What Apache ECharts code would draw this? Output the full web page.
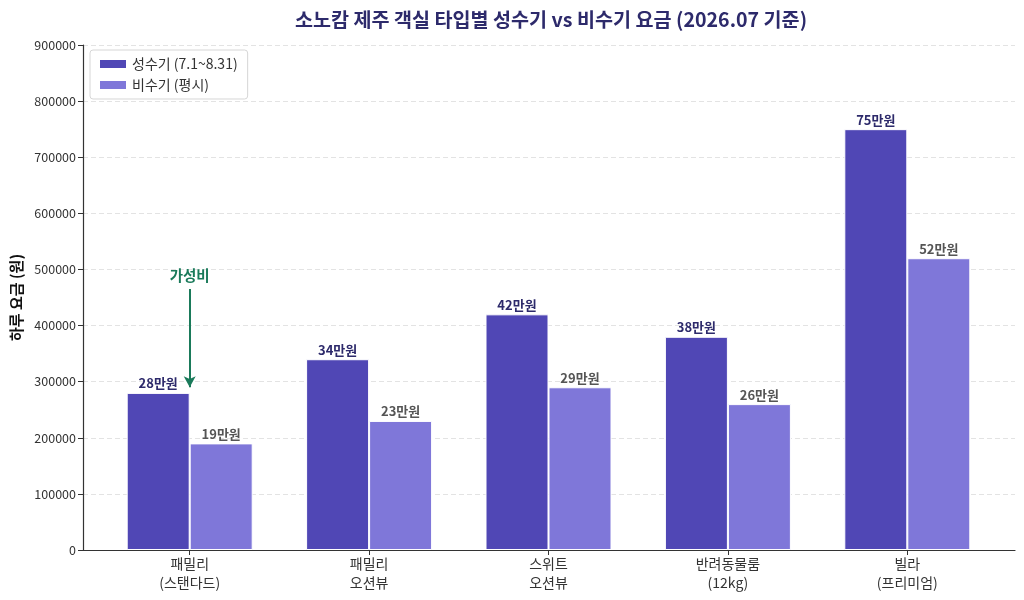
<!DOCTYPE html>
<html>
<head>
<meta charset="utf-8">
<script src="https://cdn.jsdelivr.net/npm/echarts@6/dist/echarts.min.js"></script>
<style>
  html, body { margin: 0; padding: 0; background: #fff; }
  #chart { width: 1024px; height: 600px; }
</style>
</head>
<body>
<div id="chart"></div>
<script>
// 객실 타입 / 요금 데이터
const roomTypes = ['패밀리\n(스탠다드)', '패밀리\n오션뷰', '스위트\n오션뷰', '반려동물룸\n(12kg)', '빌라\n(프리미엄)'];
const peakPrices = [280000, 340000, 420000, 380000, 750000];
const offPrices = [190000, 230000, 290000, 260000, 520000];
const yTicks = { min: 0, max: 900000, interval: 100000 };
const noteText = '가성비';
const noteFrom = 465000;
const noteTo = 290000;

const font = '"Noto Sans CJK KR", "Noto Sans", sans-serif';
const colors = ['#5047b5', '#7f77d9'];

function manwon(p) {
  return Math.round(p.value / 10000) + '만원';
}

const chart = echarts.init(document.getElementById('chart'));

const option = {
  animation: false,
  textStyle: { fontFamily: font },
  title: {
    text: '소노캄 제주 객실 타입별 성수기 vs 비수기 요금 (2026.07 기준)',
    left: 546, top: 5, textAlign: 'center',
    textStyle: { fontFamily: font, fontSize: 19.6, fontWeight: 'bold', color: '#2d2a6b' }
  },
  legend: {
    orient: 'vertical',
    left: 90, top: 50,
    padding: [7, 10, 7, 8],
    itemGap: 7,
    itemWidth: 28, itemHeight: 10,
    icon: 'rect',
    backgroundColor: '#fff',
    borderColor: '#d6d6d6', borderWidth: 1, borderRadius: 3,
    textStyle: { fontFamily: font, fontSize: 14, color: '#333' },
    data: ['성수기 (7.1~8.31)', '비수기 (평시)']
  },
  grid: [
    { left: 83, right: 9, top: 45, bottom: 50, outerBoundsMode: 'none', containLabel: false },
    { left: 100, right: 27, top: 45, bottom: 50, outerBoundsMode: 'none', containLabel: false }
  ],
  xAxis: [
    {
      type: 'value', gridIndex: 0, min: 0, max: 1,
      axisLine: { show: true, lineStyle: { color: '#333', width: 1.2 } },
      axisTick: { show: false }, axisLabel: { show: false }, splitLine: { show: false }
    },
    {
      type: 'category', gridIndex: 1, data: roomTypes,
      axisLine: { show: false },
      axisTick: { show: true, alignWithLabel: true, length: 5, lineStyle: { color: '#333' } },
      axisLabel: { fontFamily: font, fontSize: 14, color: '#333', lineHeight: 19, margin: 4 }
    }
  ],
  yAxis: [
    {
      type: 'value', gridIndex: 0,
      min: yTicks.min, max: yTicks.max, interval: yTicks.interval,
      name: '하루 요금 (원)', nameLocation: 'middle', nameGap: 59,
      nameTextStyle: { fontFamily: font, fontSize: 15, fontWeight: 'bold', color: '#111' },
      axisLine: { show: true, lineStyle: { color: '#333', width: 1.2 } },
      axisTick: { show: true, length: 5, lineStyle: { color: '#333' } },
      axisLabel: { fontFamily: font, fontSize: 12.5, color: '#333', margin: 7, formatter: v => String(v) },
      splitLine: { show: true, lineStyle: { color: '#e3e3e3', type: [5, 3] } }
    },
    {
      type: 'value', gridIndex: 1,
      min: yTicks.min, max: yTicks.max, interval: yTicks.interval,
      show: false, splitLine: { show: false }
    }
  ],
  series: [
    {
      name: '성수기 (7.1~8.31)', type: 'bar',
      xAxisIndex: 1, yAxisIndex: 1,
      data: peakPrices, barWidth: 63, barGap: '0%',
      itemStyle: { color: colors[0], borderColor: '#fff', borderWidth: 1 },
      label: {
        show: true, position: 'top', distance: 3, formatter: manwon,
        fontFamily: font, fontSize: 13, fontWeight: 'bold', color: '#2d2a6b'
      }
    },
    {
      name: '비수기 (평시)', type: 'bar',
      xAxisIndex: 1, yAxisIndex: 1,
      data: offPrices, barWidth: 63, barGap: '0%',
      itemStyle: { color: colors[1], borderColor: '#fff', borderWidth: 1 },
      label: {
        show: true, position: 'top', distance: 3, formatter: manwon,
        fontFamily: font, fontSize: 13, fontWeight: 'bold', color: '#555'
      }
    },
    {
      // 주석 화살표용 빈 시리즈
      name: 'note', type: 'line',
      xAxisIndex: 1, yAxisIndex: 1,
      data: [],
      markLine: {
        silent: true,
        symbol: ['none', 'arrow'], symbolSize: [9, 11],
        lineStyle: { color: '#1a7a5a', width: 2, type: 'solid' },
        label: {
          show: true, position: 'start', formatter: noteText, distance: 6,
          fontFamily: font, fontSize: 14.5, fontWeight: 'bold', color: '#1a7a5a'
        },
        data: [[{ coord: [0, noteFrom] }, { coord: [0, noteTo] }]]
      }
    }
  ]
};

chart.setOption(option);
</script>
</body>
</html>
